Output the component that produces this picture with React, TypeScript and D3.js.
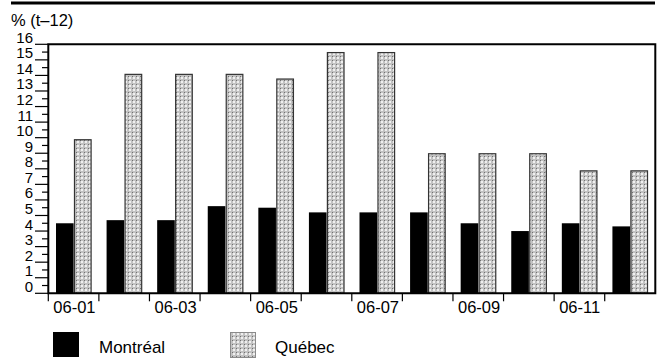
import React from "react";
import * as d3 from "d3";

const months = ["06-01","06-02","06-03","06-04","06-05","06-06","06-07","06-08","06-09","06-10","06-11","06-12"];
const montreal = [4.5, 4.7, 4.7, 5.6, 5.5, 5.2, 5.2, 5.2, 4.5, 4.0, 4.5, 4.3];
const quebec = [9.9, 14.1, 14.1, 14.1, 13.8, 15.5, 15.5, 9.0, 9.0, 9.0, 7.9, 7.9];
const series = ["Montréal", "Québec"];
const yTicks = d3.range(0, 17);
const yHalfTicks = d3.range(0.5, 16, 1);
const xLabelMonths = ["06-01","06-03","06-05","06-07","06-09","06-11"];
const yTitle = "% (t–12)";

const W = 660, H = 358;
const L = 48.3, R = 655.3, T = 44.3, B = 293.3;
const FONT = "'Liberation Sans', Arial, Helvetica, sans-serif";

export default function App() {
  const x = d3.scaleBand<string>().domain(months).range([L, R]).padding(0);
  const inner = d3.scaleBand<string>().domain(series).range([7.7, 43.3]).paddingInner(0.02);
  const y = d3.scaleLinear().domain([0, 16]).range([B, T]);
  const bw = inner.bandwidth();

  return (
    <svg width={W} height={H} style={{ position: "absolute", left: 0, top: 0, background: "#fff" }} fontFamily={FONT}>
      <defs>
        <pattern id="dots" width={4} height={4} patternUnits="userSpaceOnUse">
          <rect width={4} height={4} fill="#c2c2c2" />
          <rect x={1} y={1} width={2} height={2} fill="#f0f0f0" />
          <rect x={0} y={0} width={1} height={1} fill="#707070" />
        </pattern>
      </defs>
      <rect x={0} y={0} width={W} height={H} fill="#fff" />
      {/* top rule */}
      <rect x={11} y={1.5} width={644} height={3} fill="#000" />
      {/* y title */}
      <text x={11} y={25.5} fontSize={16.5} fill="#000">{yTitle}</text>

      {/* bars */}
      {months.map((m, i) => (
        <g key={m}>
          <rect
            x={(x(m) as number) + (inner("Montréal") as number)}
            y={y(montreal[i])}
            width={bw}
            height={B - y(montreal[i])}
            fill="#000"
          />
          <rect
            x={(x(m) as number) + (inner("Québec") as number) + 0.5}
            y={y(quebec[i]) + 0.5}
            width={bw - 1}
            height={B - y(quebec[i]) - 0.5}
            fill="url(#dots)"
            stroke="#333"
            strokeWidth={1.2}
          />
        </g>
      ))}

      {/* frame */}
      <path d={`M${L},${B} L${L},${T} L${R},${T} L${R},${B} Z`} fill="none" stroke="#000" strokeWidth={2} />

      {/* y ticks */}
      {yTicks.map((t) => (
        <g key={"y" + t}>
          <line x1={35} x2={L} y1={y(t)} y2={y(t)} stroke="#000" strokeWidth={1.2} />
          <text x={33} y={y(t) - 1.5} fontSize={15} textAnchor="end" fill="#000">{t}</text>
        </g>
      ))}
      {yHalfTicks.map((t) => (
        <line key={"yh" + t} x1={42} x2={L} y1={y(t)} y2={y(t)} stroke="#000" strokeWidth={1.2} />
      ))}

      {/* x ticks */}
      {months.map((m) => (
        <line key={"xt" + m} x1={x(m) as number} x2={x(m) as number} y1={B} y2={B + 8} stroke="#000" strokeWidth={1.2} />
      ))}
      {xLabelMonths.map((m) => (
        <text key={"xl" + m} x={(x(m) as number) + 5} y={313} fontSize={16.5} fill="#000">{m}</text>
      ))}

      {/* legend */}
      <rect x={53} y={332} width={26} height={25} fill="#000" />
      <text x={99} y={353} fontSize={17} fill="#000">{series[0]}</text>
      <rect x={230.5} y={332.5} width={25} height={25} fill="url(#dots)" stroke="#8a8a8a" strokeWidth={1} />
      <text x={275} y={353} fontSize={17} fill="#000">{series[1]}</text>
    </svg>
  );
}
